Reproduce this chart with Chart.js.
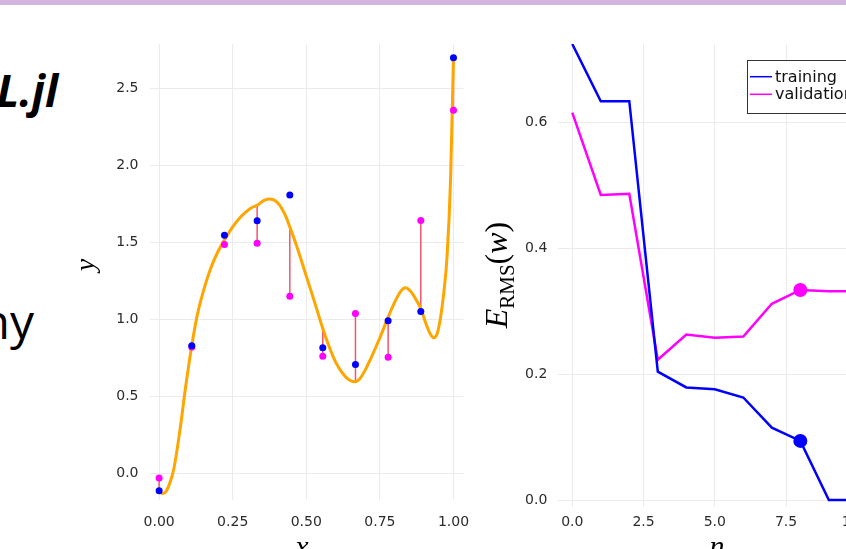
<!DOCTYPE html>
<html>
<head>
<meta charset="utf-8">
<script src="https://cdn.jsdelivr.net/npm/chart.js@4.4.1/dist/chart.umd.min.js"></script>
<style>
  html, body { margin: 0; padding: 0; background: #fff; }
  body { position: relative; width: 846px; height: 549px; overflow: hidden; }
  .bar { position: absolute; left: 0; top: 0; width: 846px; height: 5px; background: #d2b4e1; }
  .slide { position: absolute; white-space: nowrap; text-align: right; font-family: "Open Sans", sans-serif; color: #000; line-height: 1; }
  .t1 { right: 788px; top: 68px; font-size: 44px; font-weight: 700; font-style: italic; }
  .t2 { right: 812px; top: 297px; font-size: 48px; }
  canvas { position: absolute; top: 0; }
  #fit { left: 80px; }
  #err { left: 470px; }
</style>
</head>
<body>
<div class="bar"></div>
<div class="slide t1">L.jl</div>
<div class="slide t2">ny</div>
<canvas id="err" width="420" height="549"></canvas>
<canvas id="fit" width="403" height="549"></canvas>
<script>
// left panel: sample points, validation points and the fitted polynomial
var sampleX   = [0, 0.111, 0.222, 0.333, 0.444, 0.556, 0.667, 0.778, 0.889, 1.0];
var trainY    = [-0.113, 0.829, 1.545, 1.639, 1.807, 0.816, 0.706, 0.991, 1.051, 2.698];
var validY    = [-0.030, 0.820, 1.485, 1.494, 1.150, 0.760, 1.038, 0.753, 1.641, 2.357];
var fitAtX    = [-0.115, 0.830, 1.515, 1.735, 1.597, 0.939, 0.604, 1.014, 1.068, 2.700];

var curveX = [0, 0.01, 0.02, 0.035, 0.05, 0.07, 0.09, 0.111, 0.13, 0.15, 0.175, 0.2, 0.222, 0.25, 0.28,
  0.31, 0.333, 0.355, 0.372, 0.39, 0.41, 0.43, 0.444, 0.47, 0.5, 0.53, 0.556, 0.58, 0.6, 0.625,
  0.645, 0.662, 0.68, 0.7, 0.72, 0.75, 0.778, 0.8, 0.82, 0.837, 0.855, 0.875, 0.889, 0.905, 0.92,
  0.933, 0.945, 0.956, 0.967, 0.978, 0.99, 1.0];
var curveY = [-0.115, -0.13, -0.125, -0.07, 0.03, 0.27, 0.56, 0.83, 1.03, 1.18, 1.33, 1.44, 1.515, 1.60, 1.67,
  1.72, 1.74, 1.77, 1.781, 1.775, 1.74, 1.67, 1.60, 1.46, 1.28, 1.10, 0.94, 0.81, 0.72, 0.645,
  0.607, 0.595, 0.61, 0.67, 0.75, 0.88, 1.014, 1.11, 1.18, 1.205, 1.18, 1.12, 1.068, 0.98, 0.91,
  0.88, 0.91, 1.01, 1.17, 1.40, 1.90, 2.70];

var fitXTicks  = [0, 0.25, 0.5, 0.75, 1.0];
var fitXLabels = ['0.00', '0.25', '0.50', '0.75', '1.00'];
var fitYTicks  = [0, 0.5, 1.0, 1.5, 2.0, 2.5];
var fitYLabels = ['0.0', '0.5', '1.0', '1.5', '2.0', '2.5'];

// right panel: RMS error against polynomial order n
var orders     = [0, 1, 2, 3, 4, 5, 6, 7, 8, 9, 10];
var trainErr   = [0.725, 0.634, 0.634, 0.204, 0.179, 0.176, 0.163, 0.115, 0.094, 0.0, 0.0];
var validErr   = [0.616, 0.485, 0.487, 0.223, 0.263, 0.258, 0.260, 0.312, 0.334, 0.332, 0.332];
var bestOrder  = 8;
var seriesNames  = ['training', 'validation'];
var seriesColors = ['#0000ff', '#ff00ff'];

var errXTicks  = [0, 2.5, 5, 7.5, 10];
var errXLabels = ['0.0', '2.5', '5.0', '7.5', '10.0'];
var errYTicks  = [0, 0.2, 0.4, 0.6];
var errYLabels = ['0.0', '0.2', '0.4', '0.6'];

Chart.defaults.font.family = '"DejaVu Sans", sans-serif';
Chart.defaults.animation = false;

function zip(xs, ys) {
  return xs.map(function(x, i) { return { x: x, y: ys[i] }; });
}

function residualSegments() {
  var pts = [];
  for (var i = 0; i < sampleX.length; i++) {
    pts.push({ x: sampleX[i], y: validY[i] });
    pts.push({ x: sampleX[i], y: fitAtX[i] });
    pts.push({ x: sampleX[i], y: null });
  }
  return pts;
}

function axis(min, max, ticks, labels, pad, size, horizontal) {
  return {
    type: 'linear',
    min: min,
    max: max,
    border: { display: false },
    grid: { color: '#ebebeb', lineWidth: 1, drawTicks: false },
    ticks: {
      padding: pad,
      color: '#2b2b2b',
      font: { size: 14 },
      callback: function(v, i) { return labels[i]; }
    },
    afterBuildTicks: function(s) {
      s.ticks = ticks.map(function(v) { return { value: v }; });
    },
    afterFit: function(s) {
      if (horizontal) s.height = size; else s.width = size;
    }
  };
}

// draws a string made of pieces [text, font, baseline shift], rotated when asked
function drawPieces(ctx, pieces, x, y, rotate) {
  ctx.save();
  ctx.translate(x, y);
  if (rotate) ctx.rotate(-Math.PI / 2);
  ctx.fillStyle = '#000';
  ctx.textBaseline = 'alphabetic';
  ctx.textAlign = 'left';
  var total = 0;
  pieces.forEach(function(p) { ctx.font = p[1]; total += ctx.measureText(p[0]).width; });
  var pos = -total / 2;
  pieces.forEach(function(p) {
    ctx.font = p[1];
    ctx.fillText(p[0], pos, p[2]);
    pos += ctx.measureText(p[0]).width;
  });
  ctx.restore();
}

var serif = '"Liberation Serif", "DejaVu Serif", serif';

var fitTitles = {
  id: 'fitTitles',
  afterDraw: function(chart) {
    var ctx = chart.ctx;
    var ox = 80;
    drawPieces(ctx, [['y', 'italic 28px ' + serif, 0]], 94 - ox, 265, true);
    drawPieces(ctx, [['x', 'italic 30px ' + serif, 0]], 302 - ox, 556, false);
  }
};

var errTitles = {
  id: 'errTitles',
  afterDraw: function(chart) {
    var ctx = chart.ctx;
    var ox = 470;
    drawPieces(ctx, [
      ['E', 'italic 32px ' + serif, 0],
      ['RMS', '21px ' + serif, 7],
      ['(', '32px ' + serif, 0],
      ['w', 'italic 32px ' + serif, 0],
      [')', '32px ' + serif, 0]
    ], 507 - ox, 275, true);
    drawPieces(ctx, [['n', 'italic 30px ' + serif, 0]], 717 - ox, 556, false);
  }
};

var legendBox = {
  id: 'legendBox',
  afterDatasetsDraw: function(chart) {
    var ctx = chart.ctx, a = chart.chartArea;
    ctx.save();
    ctx.font = '16px "DejaVu Sans"';
    var tw = 0;
    seriesNames.forEach(function(s) { tw = Math.max(tw, ctx.measureText(s).width); });
    var w = 3 + 22 + 3 + tw + 6, h = 53;
    var x = Math.round(a.left + 189), y = Math.round(a.top + 16);
    ctx.fillStyle = '#fff';
    ctx.fillRect(x, y, w, h);
    ctx.strokeStyle = '#333';
    ctx.lineWidth = 1;
    ctx.strokeRect(x + 0.5, y + 0.5, w, h);
    seriesNames.forEach(function(s, i) {
      var ly = y + 16.7 + i * 17.6;
      ctx.strokeStyle = seriesColors[i];
      ctx.lineWidth = 1.5;
      ctx.beginPath();
      ctx.moveTo(x + 3, ly);
      ctx.lineTo(x + 25, ly);
      ctx.stroke();
      ctx.fillStyle = '#111';
      ctx.textBaseline = 'middle';
      ctx.fillText(s, x + 28, ly + 1);
    });
    ctx.restore();
  }
};

new Chart(document.getElementById('fit'), {
  type: 'scatter',
  data: {
    datasets: [
      { label: 'training', data: zip(sampleX, trainY), backgroundColor: '#0000ff',
        pointRadius: 3.5, pointBorderWidth: 0 },
      { label: 'validation', data: zip(sampleX, validY), backgroundColor: '#ff00ff',
        pointRadius: 3.5, pointBorderWidth: 0 },
      { label: 'fit', data: zip(curveX, curveY), showLine: true, borderColor: '#ffa500',
        borderWidth: 3, pointRadius: 0, cubicInterpolationMode: 'monotone' },
      { label: 'residual', data: residualSegments(), showLine: true, spanGaps: false,
        borderColor: '#f0566a', borderWidth: 1.5, pointRadius: 0 }
    ]
  },
  options: {
    responsive: false,
    layout: { padding: { top: 44, right: 14, left: 0, bottom: 0 } },
    plugins: { legend: { display: false }, tooltip: { enabled: false } },
    scales: {
      x: axis(-0.031, 1.034, fitXTicks, fitXLabels, 13.5, 49, true),
      y: axis(-0.173, 2.787, fitYTicks, fitYLabels, 11.5, 70, false)
    }
  },
  plugins: [fitTitles]
});

new Chart(document.getElementById('err'), {
  type: 'line',
  data: {
    datasets: [
      { label: 'training', data: zip(orders, trainErr), borderColor: seriesColors[0],
        backgroundColor: seriesColors[0], borderWidth: 2.5, pointBorderWidth: 0,
        pointRadius: function(c) { return c.dataIndex === bestOrder ? 7 : 0; } },
      { label: 'validation', data: zip(orders, validErr), borderColor: seriesColors[1],
        backgroundColor: seriesColors[1], borderWidth: 2.5, pointBorderWidth: 0,
        pointRadius: function(c) { return c.dataIndex === bestOrder ? 7 : 0; } }
    ]
  },
  options: {
    responsive: false,
    layout: { padding: { top: 44, right: 24.1, left: 0, bottom: 0 } },
    plugins: { legend: { display: false }, tooltip: { enabled: false } },
    scales: {
      x: axis(-0.49, 10.3, errXTicks, errXLabels, 7, 42.3, true),
      y: axis(-0.0106, 0.725, errYTicks, errYLabels, 11, 88.3, false)
    }
  },
  plugins: [legendBox, errTitles]
});
</script>
</body>
</html>
